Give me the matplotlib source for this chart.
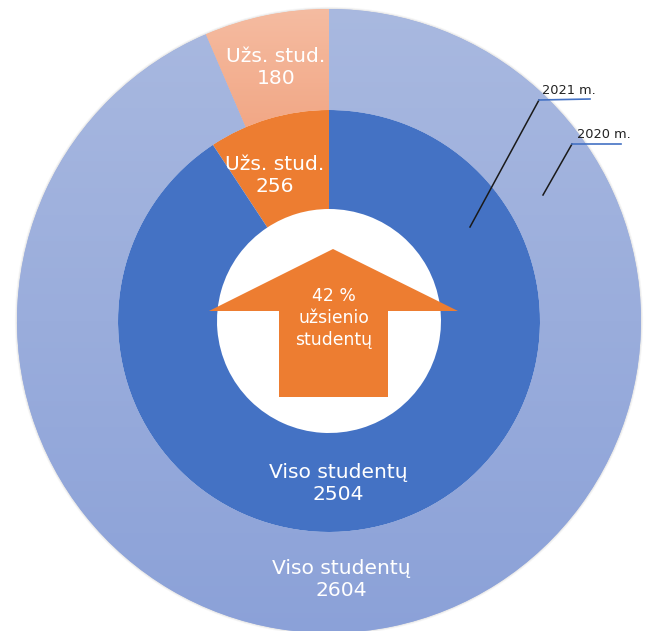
import numpy as np
import matplotlib
matplotlib.use("Agg")
import matplotlib.pyplot as plt

plt.rcParams['font.family'] = ['DejaVu Sans']

# values, foreign students first
values_2020 = [180, 2604]
values_2021 = [256, 2504]
labels_2020 = ['Užs. stud.\n180', 'Viso studentų\n2604']
labels_2021 = ['Užs. stud.\n256', 'Viso studentų\n2504']
center_text = '42 %\nužsienio\nstudentų'
year_labels = ['2021 m.', '2020 m.']

W, H = 649, 631
CX, CY = 329, 321


def px(x, y):
    # picture pixels -> axes coordinates (pie sits at 0,0)
    return x - CX, CY - y


fig = plt.figure(figsize=(W / 100, H / 100), dpi=100)
ax = fig.add_axes([0, 0, 1, 1])

# outer ring 2020
outer, _ = ax.pie(values_2020, radius=312, startangle=90, counterclock=True,
                  colors=['#F3B295', '#9AACDB'], frame=True,
                  wedgeprops=dict(width=101, linewidth=0))
# inner ring 2021
inner, _ = ax.pie(values_2021, radius=211, startangle=90, counterclock=True,
                  colors=['#ED7D31', '#4472C4'], frame=True,
                  wedgeprops=dict(width=99, linewidth=0))

# soft top-to-bottom fade on the outer ring
ext = [-320, 320, -320, 320]
grads = [('#F5BDA3', '#F2A785'), ('#A9B9E0', '#8BA1D8')]
fades = [np.clip(np.linspace(0, 5, 256), 0, 1), np.linspace(0, 1, 256)]
for wedge, (c1, c2), t in zip(outer, grads, fades):
    rgb1 = np.array(matplotlib.colors.to_rgb(c1))
    rgb2 = np.array(matplotlib.colors.to_rgb(c2))
    img = rgb1[None, :] * (1 - t[:, None]) + rgb2[None, :] * t[:, None]
    im = ax.imshow(img[:, None, :], extent=ext, origin='upper', aspect='auto', zorder=1.5)
    im.set_clip_path(wedge)

# thin soft edge round the big circle
for lw, a in [(3.0, 0.05), (1.6, 0.08)]:
    ax.add_patch(plt.Circle((0, 0), 312, fill=False, ec='#555555', lw=lw, alpha=a, zorder=0.5))

# arrow in the hole
arrow = [(333, 249), (458, 311), (388, 311), (388, 397), (279, 397), (279, 311), (209, 311)]
ax.add_patch(plt.Polygon([px(x, y) for x, y in arrow], closed=True, fc='#ED7D31', ec='none', zorder=3))

# texts
txt = dict(color='white', ha='center', va='center', zorder=4)
ax.text(*px(276, 67), labels_2020[0], fontsize=14.6, linespacing=1.2, **txt)
ax.text(*px(275, 175), labels_2021[0], fontsize=14.6, linespacing=1.2, **txt)
ax.text(*px(338, 484), labels_2021[1], fontsize=14.6, linespacing=1.2, **txt)
ax.text(*px(341, 580), labels_2020[1], fontsize=14.6, linespacing=1.2, **txt)
ax.text(*px(334, 318), center_text, fontsize=12.4, linespacing=1.32, **txt)

# year leaders
leaders = [[(470, 227), (539, 100), (590, 99)], [(543, 195), (572, 144), (621, 144)]]
text_pos = [(569, 90), (604, 135)]
for pts, lab, pos in zip(leaders, year_labels, text_pos):
    (x0, y0), (x1, y1), (x2, y2) = [px(*p) for p in pts]
    ax.plot([x0, x1], [y0, y1], color='#1A1A1A', lw=1.1, zorder=5)
    ax.plot([x1, x2], [y1, y2], color='#4472C4', lw=1.2, zorder=5)
    ax.text(*px(*pos), lab, fontsize=9.3, color='#222222', ha='center', va='center', zorder=5)

ax.set_xlim(-CX, W - CX)
ax.set_ylim(CY - H, CY)
ax.set_aspect('equal')
ax.axis('off')

fig.savefig('out.png', dpi=100, facecolor='white')
